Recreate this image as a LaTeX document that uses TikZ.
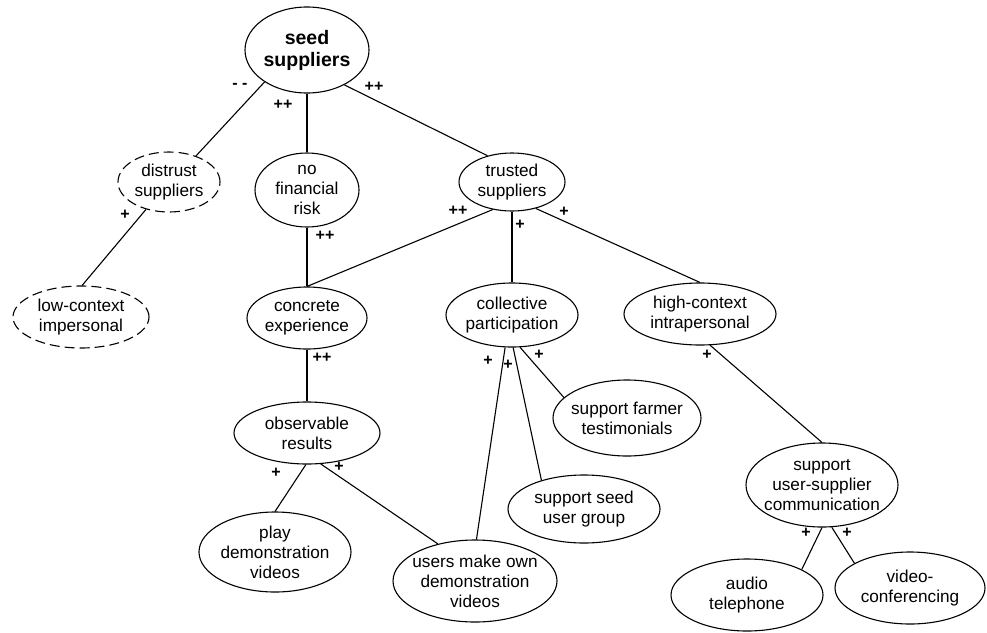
\documentclass[tikz,border=0pt]{standalone}
\usepackage{fontspec}
\setmainfont{Liberation Sans}
\usetikzlibrary{shapes.geometric}

\begin{document}
\begin{tikzpicture}[
    x=1pt, y=-1pt,
    concept/.style={ellipse, draw, line width=1.1pt, align=center,
                    inner xsep=-6pt, inner ysep=-3pt,
                    font=\fontsize{17.2}{20}\selectfont},
    ell/.style 2 args={minimum width=#1, minimum height=#2},
    doubt/.style={concept, dash pattern=on 10pt off 5pt},
    link/.style={line width=1.1pt},
    sign/.style={inner sep=0pt, font=\bfseries\fontsize{16}{16}\selectfont}
]
    \useasboundingbox (0,0) rectangle (987,632);

    % concepts
    \node[concept, ell={124pt}{86pt}, font=\bfseries\fontsize{19.5}{22}\selectfont] (seed) at (307,50) {seed\\suppliers};
    \node[doubt, ell={102pt}{60pt}] (distrust) at (169,182) {distrust\\suppliers};
    \node[doubt, ell={136pt}{62pt}] (low) at (81,317) {low-context\\impersonal};
    \node[concept, ell={104pt}{74pt}] (nofin) at (307,190) {no\\financial\\risk};
    \node[concept, ell={106pt}{58pt}] (trusted) at (512,182) {trusted\\suppliers};
    \node[concept, ell={120pt}{62pt}] (concrete) at (307,318) {concrete\\experience};
    \node[concept, ell={132pt}{64pt}] (collective) at (512,315) {collective\\participation};
    \node[concept, ell={152pt}{62pt}] (high) at (700,314) {high-context\\intrapersonal};
    \node[concept, ell={146pt}{62pt}] (observable) at (307,433) {observable\\results};
    \node[concept, ell={152pt}{80pt}] (play) at (275,552) {play\\demonstration\\videos};
    \node[concept, ell={164pt}{82pt}] (users) at (475,581) {users make own\\demonstration\\videos};
    \node[concept, ell={152pt}{68pt}] (seedgroup) at (584,509) {support seed\\user group};
    \node[concept, ell={148pt}{76pt}] (farmer) at (627,418) {support farmer\\testimonials};
    \node[concept, ell={152pt}{84pt}] (support) at (822,485) {support\\user-supplier\\communication};
    \node[concept, ell={152pt}{72pt}] (audio) at (747,595) {audio\\telephone};
    \node[concept, ell={150pt}{72pt}] (video) at (910,588) {video-\\conferencing};

    % links
    \draw[link] (seed.-143) -- (distrust.44);
    \draw[link] (seed.south) -- (nofin.north);
    \draw[link] (seed.-43) -- (trusted.133);
    \draw[link] (distrust.-130) -- (low.88);
    \draw[link] (nofin.south) -- (concrete.north);
    \draw[link] (trusted.-125) -- (concrete.north);
    \draw[link] (trusted.south) -- (collective.north);
    \draw[link] (trusted.-48) -- (high.north);
    \draw[link] (concrete.south) -- (observable.north);
    \draw[link] (collective.-102) -- (users.88);
    \draw[link] (collective.-88) -- (seedgroup.146);
    \draw[link] (collective.-76) -- (farmer.162);
    \draw[link] (high.-72) -- (support.north);
    \draw[link] (observable.-92) -- (play.north);
    \draw[link] (observable.-66) -- (users.135);
    \draw[link] (support.-90) -- (audio.25);
    \draw[link] (support.-77) -- (video.156);

    % signs
    \node[sign] (s-distrust) at (240,86) {- -};
    \node[sign] (s-nofin) at (283,105) {++};
    \node[sign] (s-trusted) at (374,87) {++};
    \node[sign] (s-low) at (125,215) {+};
    \node[sign] (s-concrete1) at (325,236) {++};
    \node[sign] (s-concrete2) at (458,211) {++};
    \node[sign] (s-collective) at (520,225) {+};
    \node[sign] (s-high) at (564,212) {+};
    \node[sign] (s-observable) at (322,358) {++};
    \node[sign] (s-users1) at (488,361) {+};
    \node[sign] (s-seedgroup) at (508,365) {+};
    \node[sign] (s-farmer) at (539,355) {+};
    \node[sign] (s-support) at (707,355) {+};
    \node[sign] (s-play) at (276,473) {+};
    \node[sign] (s-users2) at (339,467) {+};
    \node[sign] (s-audio) at (806,533) {+};
    \node[sign] (s-video) at (847,533) {+};
\end{tikzpicture}
\end{document}
